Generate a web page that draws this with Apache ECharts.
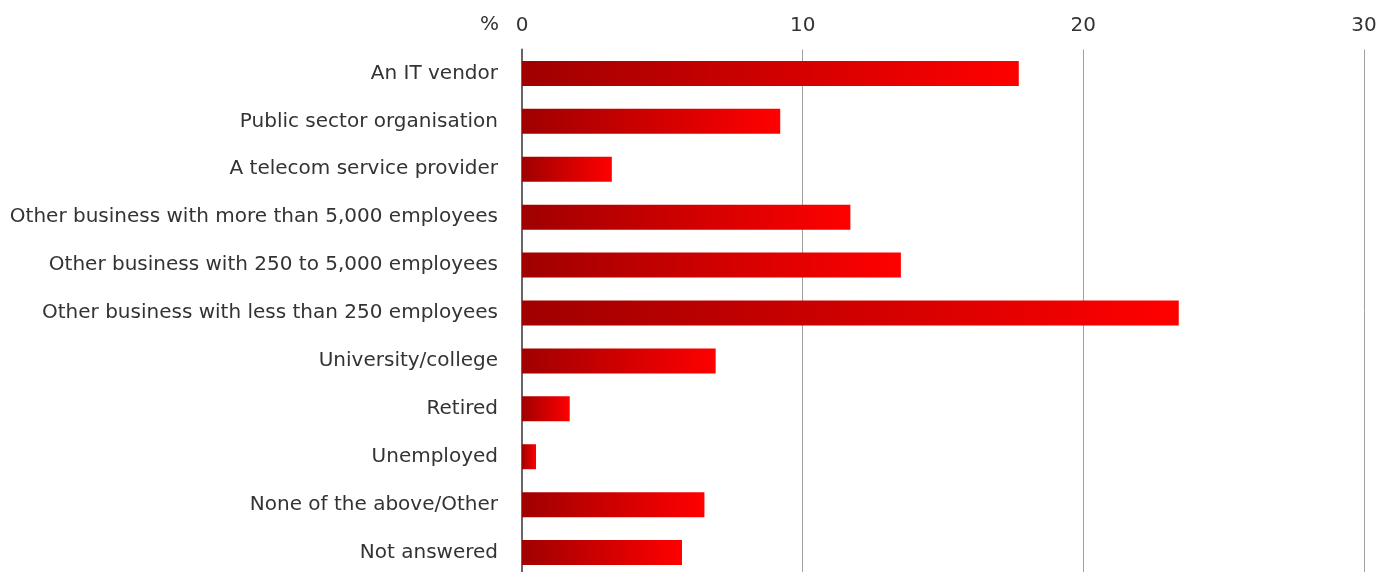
<!DOCTYPE html>
<html>
<head>
<meta charset="utf-8">
<script src="https://cdn.jsdelivr.net/npm/echarts@6/dist/echarts.min.js"></script>
<style>html,body{margin:0;padding:0;background:#fff}#c{width:1392px;height:572px}</style>
</head>
<body>
<div id="c"></div>
<script>
const categories = [
  "An IT vendor",
  "Public sector organisation",
  "A telecom service provider",
  "Other business with more than 5,000 employees",
  "Other business with 250 to 5,000 employees",
  "Other business with less than 250 employees",
  "University/college",
  "Retired",
  "Unemployed",
  "None of the above/Other",
  "Not answered"
];
const values = [17.7, 9.2, 3.2, 11.7, 13.5, 23.4, 6.9, 1.7, 0.5, 6.5, 5.7];
const axisTicks = [0, 10, 20, 30];
const unitLabel = "%";

const chart = echarts.init(document.getElementById('c'));
const FONT = 'DejaVu Sans';
chart.setOption({
  animation: false,
  grid: { left: 522, right: 28, top: 49.5, height: 527, containLabel: false, outerBoundsMode: 'none' },
  xAxis: {
    type: 'value', position: 'top', min: axisTicks[0], max: axisTicks[axisTicks.length-1], interval: 10,
    axisLine: { show: false }, axisTick: { show: false },
    axisLabel: { margin: 14, color: '#333', fontFamily: FONT, fontSize: 20 },
    splitLine: { show: true, lineStyle: { color: '#a0a0a0', width: 1 } }
  },
  yAxis: {
    type: 'category', inverse: true, data: categories,
    axisLine: { show: true, lineStyle: { color: '#666', width: 2 } },
    axisTick: { show: false },
    axisLabel: { margin: 24, color: '#333', fontFamily: FONT, fontSize: 20 }
  },
  graphic: [{
    type: 'text', left: 480, top: 15,
    style: { text: unitLabel, fill: '#333', font: '20px ' + FONT }
  }],
  series: [{
    type: 'bar', data: values, barWidth: 25,
    itemStyle: {
      color: new echarts.graphic.LinearGradient(0, 0, 1, 0, [
        { offset: 0, color: '#a00000' },
        { offset: 1, color: '#ff0000' }
      ])
    }
  }]
});
</script>
</body>
</html>
